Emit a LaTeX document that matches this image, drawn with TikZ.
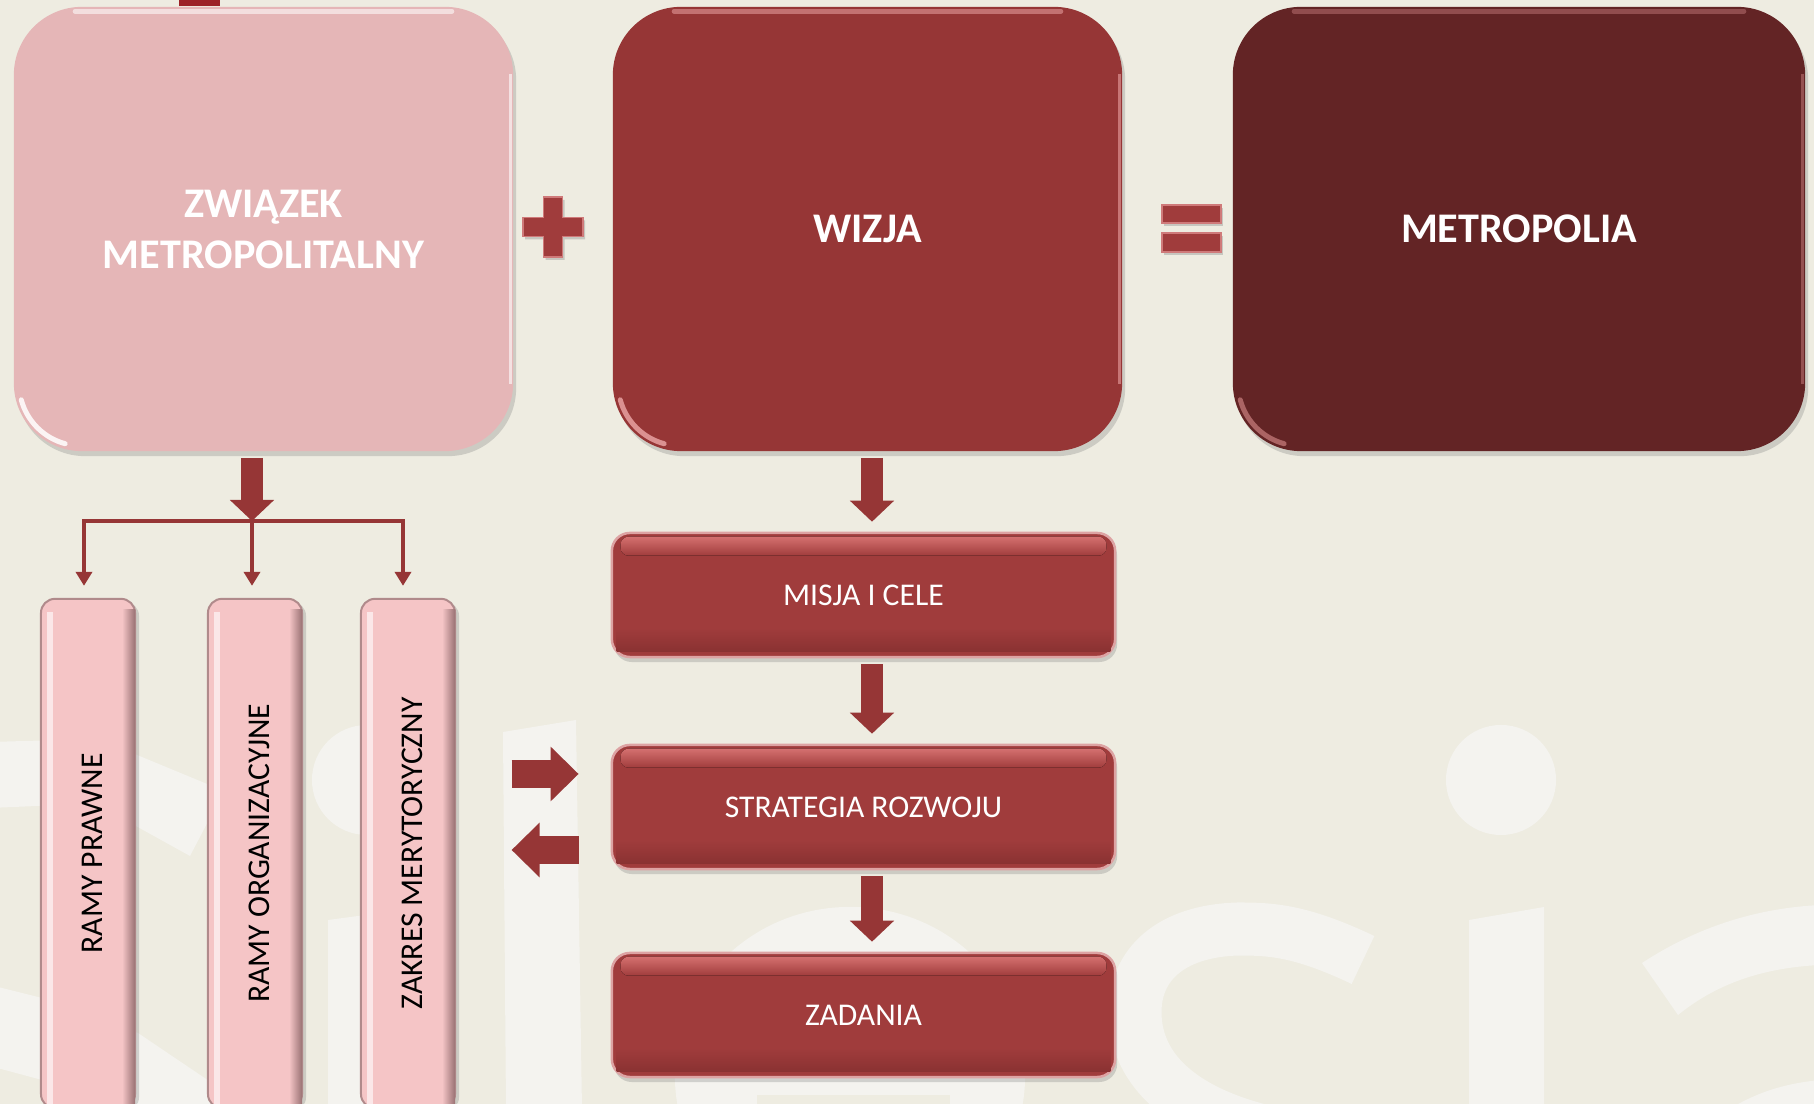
\documentclass[tikz,border=0pt]{standalone}
\usepackage{fontspec}
\setmainfont{Carlito}
\usetikzlibrary{arrows.meta,shadows}
\definecolor{bgc}{HTML}{EEECE1}
\definecolor{wmc}{HTML}{F4F3EF}
\definecolor{zwc}{HTML}{E5B6B7}
\definecolor{wic}{HTML}{963636}
\definecolor{mec}{HTML}{632425}
\definecolor{flc}{HTML}{A03C3C}
\definecolor{flhi}{HTML}{D4706F}
\definecolor{fldk}{HTML}{8A3232}
\definecolor{flrim}{HTML}{DDA3A3}
\definecolor{pic}{HTML}{F5C5C6}
\definecolor{pidk}{HTML}{9A7274}
\definecolor{pirim}{HTML}{B08A8B}
\definecolor{arrc}{HTML}{963636}
\definecolor{opc}{HTML}{A03C3C}
\definecolor{ophi}{HTML}{CF7A7A}
\definecolor{topbar}{HTML}{9C2227}
\definecolor{wirim}{HTML}{E8A2A2}
\definecolor{merim}{HTML}{B87070}

\newcommand{\flowgloss}[1]{%
  \fill[top color=flhi, bottom color=flc, rounded corners=0.08cm]
    ([shift={(0.10cm,-0.05cm)}]#1.north west) rectangle ([shift={(-0.10cm,-0.24cm)}]#1.north east);
  \fill[top color=flc, bottom color=fldk]
    ([shift={(0.06cm,0.07cm)}]#1.south west) rectangle ([shift={(-0.06cm,0.30cm)}]#1.south east);
}
\newcommand{\bigrim}[2]{%
  \draw[#2, line width=0.05cm, opacity=0.55, line cap=round]
    ([shift={(0.62cm,-0.05cm)}]#1.north west) -- ([shift={(-0.62cm,-0.05cm)}]#1.north east);
  \draw[#2, line width=0.05cm, opacity=0.85, line cap=round]
    ([shift={(0.68cm,0.68cm)}]#1.south west) ++(195:0.62cm) arc[start angle=195, end angle=255, radius=0.62cm];
  \draw[#2, line width=0.03cm, opacity=0.6]
    ([shift={(-0.03cm,-0.68cm)}]#1.north east) -- ([shift={(-0.03cm,0.68cm)}]#1.south east);
}
\newcommand{\pillargloss}[1]{%
  \fill[white, opacity=0.6] ([shift={(0.07cm,-0.14cm)}]#1.north west) rectangle ([shift={(0.13cm,0cm)}]#1.south west);
  \fill[left color=pic, right color=pidk] ([shift={(-0.14cm,-0.12cm)}]#1.north east) rectangle ([shift={(-0.01cm,0cm)}]#1.south east);
}

\begin{document}
\begin{tikzpicture}[x=0.01cm, y=-0.01cm,
  bigbox/.style={rounded corners=0.68cm, minimum height=4.44cm, inner sep=0pt, align=center, text=white,
    font=\fontsize{12}{14.5}\selectfont\bfseries,
    drop shadow={shadow xshift=0.03cm, shadow yshift=-0.05cm, opacity=0.3}},
  flowbox/.style={fill=flc, draw=flrim, line width=0.025cm, rounded corners=0.18cm, minimum width=5.03cm,
    minimum height=1.24cm, inner sep=0pt, text=white, font=\fontsize{9}{11}\selectfont,
    drop shadow={shadow xshift=0.02cm, shadow yshift=-0.05cm, opacity=0.3}},
  pillar/.style={fill=pic, draw=pirim, line width=0.02cm, rounded corners=0.14cm, minimum width=0.94cm,
    minimum height=5.09cm, inner sep=0pt,
    drop shadow={shadow xshift=0.04cm, shadow yshift=-0.03cm, opacity=0.3}},
  pillartext/.style={rotate=90, font=\fontsize{9}{11}\selectfont, text=black, inner sep=0pt},
  blockarrow/.style={draw=arrc, line width=0.21cm, -{Triangle[width=0.43cm,length=0.21cm]},
    shorten <=0.06cm, shorten >=0.10cm},
  sidearrow/.style={draw=arrc, line width=0.28cm, -{Triangle[width=0.53cm,length=0.28cm]}},
  treeline/.style={draw=arrc, line width=0.04cm, -{Triangle[width=0.16cm,length=0.14cm]}, shorten >=0.12cm},
  opsign/.style={fill=opc, draw=ophi, line width=0.015cm,
    drop shadow={shadow xshift=0.02cm, shadow yshift=-0.03cm, opacity=0.35}}
]
\useasboundingbox (0,0) rectangle (1814,1104);
\fill[bgc] (0,0) rectangle (1814,1104);

% watermark letters
\begin{scope}
\clip (0,0) rectangle (1814,1104);
\fill[wmc] (-10,742) -- (60,740) -- (60,805) -- (-10,808) -- cycle;
\fill[wmc] (125,750) -- (212,786) -- (212,814) -- (190,856) -- (125,820) -- cycle;
\fill[wmc] (-10,985) -- (42,998) -- (138,1033) -- (215,1085) -- (215,1110) -- (110,1110) -- (42,1080) -- (-10,1066) -- cycle;
\fill[wmc] (367,780) circle [radius=0.55cm];
\fill[wmc] (328,920) -- (403,910) -- (403,1110) -- (328,1110) -- cycle;
\fill[wmc] (503,732) -- (576,720) -- (582,1110) -- (506,1110) -- cycle;
\fill[wmc] (850,1076) ellipse [x radius=1.75cm, y radius=1.69cm];
\fill[bgc] (757,1095) rectangle (950,1110);
\draw[wmc, line width=0.53cm] (1363,960) .. controls (1300,930) and (1270,929) .. (1238,929)
  .. controls (1170,931) and (1135,965) .. (1135,1012)
  .. controls (1135,1080) and (1200,1125) .. (1310,1140);
\fill[wmc] (1501,780) circle [radius=0.55cm];
\fill[wmc] (1469,920) -- (1544,907) -- (1544,1110) -- (1469,1110) -- cycle;
\fill[wmc] (1642,963) .. controls (1700,925) and (1760,908) .. (1820,905) -- (1820,965)
  .. controls (1760,968) and (1715,985) .. (1678,1015) -- cycle;
\fill[wmc] (1728,1110) .. controls (1760,1090) and (1790,1083) .. (1820,1080) -- (1820,1110) -- cycle;
\end{scope}

\fill[topbar] (179,0) rectangle (220,6);

% top row
\node[bigbox, fill=zwc, minimum width=4.99cm] (zw) at (263.5,229) {ZWIĄZEK\\METROPOLITALNY};
\bigrim{zw}{white}
\node[bigbox, fill=wic, minimum width=5.09cm] (wi) at (867.5,229) {WIZJA};
\bigrim{wi}{wirim}
\node[bigbox, fill=mec, minimum width=5.72cm] (me) at (1519,229) {METROPOLIA};
\bigrim{me}{merim}

\path[opsign] (543.5,197) -- (562.5,197) -- (562.5,217.5) -- (583,217.5) -- (583,236.5) -- (562.5,236.5)
  -- (562.5,257) -- (543.5,257) -- (543.5,236.5) -- (523,236.5) -- (523,217.5) -- (543.5,217.5) -- cycle;
\path[opsign] (1162,205) rectangle (1221,223);
\path[opsign] (1162,233) rectangle (1221,252);

% pillars
\node[pillar] (p1) at (88,853.5) {};
\pillargloss{p1}
\node[pillar] (p2) at (255,853.5) {};
\pillargloss{p2}
\node[pillar] (p3) at (408,853.5) {};
\pillargloss{p3}
\node[pillartext] (p1t) at ([xshift=0.04cm]p1.center) {RAMY PRAWNE};
\node[pillartext] (p2t) at ([xshift=0.04cm]p2.center) {RAMY ORGANIZACYJNE};
\node[pillartext] (p3t) at ([xshift=0.04cm]p3.center) {ZAKRES MERYTORYCZNY};

% flow boxes
\node[flowbox] (m) at (863.5,595) {MISJA I CELE};
\flowgloss{m}
\node[flowbox] (s) at (863.5,807) {STRATEGIA ROZWOJU};
\flowgloss{s}
\node[flowbox] (z) at (863.5,1015) {ZADANIA};
\flowgloss{z}

% connectors
\coordinate (jn) at (252,521);
\coordinate (ax) at (872,0);
\draw[blockarrow, shorten >=0pt] (zw.south -| jn) -- (jn);
\draw[treeline] (jn) -| ([xshift=-0.04cm]p1.north);
\draw[treeline] (jn) -- (jn |- p2.north);
\draw[treeline] (jn) -| ([xshift=-0.05cm]p3.north);

\draw[blockarrow] (wi.south -| ax) -- (m.north -| ax);
\draw[blockarrow] (m.south -| ax) -- (s.north -| ax);
\draw[blockarrow] (s.south -| ax) -- (z.north -| ax);

\draw[sidearrow] ([shift={(-99,-33)}]s.west) -- ([shift={(-32,-33)}]s.west);
\draw[sidearrow] ([shift={(-32,43)}]s.west) -- ([shift={(-99,43)}]s.west);
\end{tikzpicture}
\end{document}
